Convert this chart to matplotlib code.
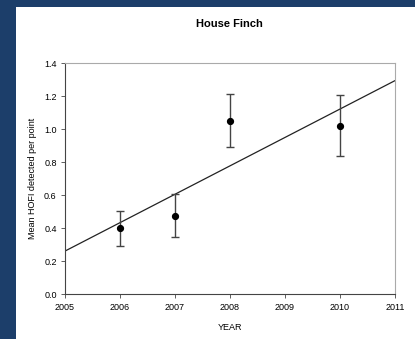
import numpy as np
import matplotlib
matplotlib.use("Agg")
import matplotlib.pyplot as plt
from matplotlib.patches import Rectangle

plt.rcParams['font.family'] = ['Liberation Sans', 'DejaVu Sans']

# Данные
years = [2006, 2007, 2008, 2010]
means = [0.40, 0.475, 1.05, 1.022]
err_low = [0.105, 0.13, 0.16, 0.182]
err_high = [0.105, 0.13, 0.165, 0.186]
fit_years = [2005, 2011]
fit_values = [0.262, 1.295]

fig = plt.figure(figsize=(4.15, 3.39), dpi=100, facecolor="#1c3e6a")

# белая панель под графиком
fig.patches.append(Rectangle((16 / 415, 0), 1 - 16 / 415, 1 - 7 / 339,
                             transform=fig.transFigure, facecolor="white",
                             edgecolor="none", zorder=-1))

ax = fig.add_axes([65 / 415, 1 - 294.3 / 339, 330 / 415, 231 / 339])
ax.set_facecolor("white")

ax.plot(fit_years, fit_values, color="#222222", linewidth=0.9)
ax.errorbar(years, means, yerr=[err_low, err_high], fmt="o", color="black",
            ecolor="#444444", elinewidth=1.0, capsize=2.6, capthick=1.0,
            markersize=4.2)

ax.set_xlim(2005, 2011)
ax.set_ylim(0, 1.4)
ax.set_xticks(range(2005, 2012))
ax.set_yticks(np.arange(0, 1.41, 0.2))
ax.set_yticklabels([f"{v:.1f}" for v in np.arange(0, 1.41, 0.2)])
ax.tick_params(labelsize=6.5, length=3, width=0.6, color="#444444", pad=3)

for side in ["top", "right"]:
    ax.spines[side].set_color("#aaaaaa")
    ax.spines[side].set_linewidth(0.8)
for side in ["left", "bottom"]:
    ax.spines[side].set_color("#444444")
    ax.spines[side].set_linewidth(0.8)

ax.set_xlabel("YEAR", fontsize=6.5, labelpad=8)
ax.set_ylabel("Mean HOFI detected per point", fontsize=6.5, labelpad=5)
fig.text(229 / 415, 1 - 24 / 339, "House Finch", ha="center", va="center",
         fontsize=8, fontweight="bold")

fig.savefig("out.png", dpi=100, facecolor=fig.get_facecolor())
